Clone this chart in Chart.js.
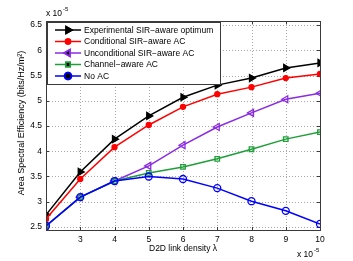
<!DOCTYPE html>
<html>
<head>
<meta charset="utf-8">
<script src="https://cdn.jsdelivr.net/npm/chart.js@4"></script>
<style>
  html, body { margin: 0; padding: 0; background: #fff; }
  #wrap { width: 353px; height: 261px; }
</style>
</head>
<body>
<div id="wrap"><canvas id="chart" width="353" height="261"></canvas></div>
<script>
// D2D link density (x 10^-5)
const density = [2, 3, 4, 5, 6, 7, 8, 9, 10];
// Area spectral efficiency (x 10^-5)
const experimentalOpt = [2.74, 3.59, 4.24, 4.70, 5.07, 5.31, 5.45, 5.65, 5.75];
const conditionalAC   = [2.66, 3.45, 4.08, 4.52, 4.88, 5.13, 5.27, 5.45, 5.53];
const unconditionalAC = [2.52, 3.09, 3.41, 3.71, 4.12, 4.48, 4.76, 5.03, 5.15];
const channelAC       = [2.52, 3.09, 3.41, 3.57, 3.69, 3.85, 4.04, 4.24, 4.38];
const noAC            = [2.52, 3.09, 3.41, 3.50, 3.45, 3.27, 3.01, 2.82, 2.56];
const yTicks = [2.5, 3, 3.5, 4, 4.5, 5, 5.5, 6, 6.5];

const FONT = 'Liberation Sans, Arial, sans-serif';

function pts(arr) {
    return arr.map((v, i) => ({ x: density[i], y: v }));
}

const series = [
    { label: 'Experimental SIR\u2212aware optimum', data: experimentalOpt, color: '#000000', style: 'triangle', rot: 90, r: 4, fill: '#000000', order: 5 },
    { label: 'Conditional SIR\u2212aware AC', data: conditionalAC, color: '#ff0000', style: 'circle', rot: 0, r: 2.5, fill: '#ff0000', order: 4 },
    { label: 'Unconditional SIR\u2212aware AC', data: unconditionalAC, color: '#8a2be2', style: 'triangle', rot: -90, r: 4, fill: 'rgba(0,0,0,0)', order: 3 },
    { label: 'Channel\u2212aware AC', data: channelAC, color: '#1f9e3a', style: 'rect', rot: 0, r: 3.2, fill: 'rgba(0,0,0,0)', order: 2 },
    { label: 'No AC', data: noAC, color: '#0000ff', style: 'circle', rot: 0, r: 3.5, fill: 'rgba(0,0,0,0)', order: 1 }
];

// dotted grid (matlab "grid on")
const gridPlugin = {
    id: 'dotgrid',
    beforeDatasetsDraw(chart) {
        const c = chart.ctx;
        const a = chart.chartArea;
        const xs = chart.scales.x, ys = chart.scales.y;
        c.save();
        c.strokeStyle = '#a8a8a8';
        c.lineWidth = 1;
        c.setLineDash([1, 2]);
        density.forEach(v => {
            if (v === 2 || v === 10) return;
            const px = Math.round(xs.getPixelForValue(v)) + 0.5;
            c.beginPath(); c.moveTo(px, a.top); c.lineTo(px, a.bottom); c.stroke();
        });
        yTicks.forEach(v => {
            const py = Math.round(ys.getPixelForValue(v)) + 0.5;
            c.beginPath(); c.moveTo(a.left, py); c.lineTo(a.right, py); c.stroke();
        });
        c.setLineDash([]);
        // inner tick marks
        c.strokeStyle = '#3a3a3a';
        density.forEach(v => {
            const px = Math.round(xs.getPixelForValue(v)) + 0.5;
            c.beginPath(); c.moveTo(px, a.bottom); c.lineTo(px, a.bottom - 3);
            c.moveTo(px, a.top); c.lineTo(px, a.top + 3); c.stroke();
        });
        yTicks.forEach(v => {
            const py = Math.round(ys.getPixelForValue(v)) + 0.5;
            c.beginPath(); c.moveTo(a.left, py); c.lineTo(a.left + 3, py);
            c.moveTo(a.right, py); c.lineTo(a.right - 3, py); c.stroke();
        });
        c.restore();
    }
};

// legend box + extra labels drawn by hand (matlab style)
const decorPlugin = {
    id: 'decor',
    afterDraw(chart) {
        const c = chart.ctx;
        const a = chart.chartArea;
        c.save();
        // plot border
        c.strokeStyle = '#3a3a3a';
        c.lineWidth = 1;
        c.strokeRect(a.left + 0.5, a.top + 0.5, a.right - a.left, a.bottom - a.top);

        // legend
        const lx = a.left + 1, ly = a.top + 1, lw = 173, lh = 62;
        c.fillStyle = '#fff';
        c.fillRect(lx, ly, lw, lh);
        c.strokeStyle = '#3a3a3a';
        c.strokeRect(lx + 0.5, ly + 0.5, lw, lh);
        c.font = '8.5px ' + FONT;
        c.textBaseline = 'middle';
        series.forEach((s, i) => {
            const yy = ly + 8 + i * 11.5;
            c.strokeStyle = s.color;
            c.lineWidth = 1.5;
            c.beginPath();
            c.moveTo(lx + 8, yy);
            c.lineTo(lx + 34, yy);
            c.stroke();
            Chart.helpers.drawPoint(c, {
                pointStyle: s.style, rotation: s.rot, radius: s.r, borderWidth: 1.3
            }, lx + 21, yy);
            c.fillStyle = s.fill;
            c.fill();
            c.stroke();
            c.fillStyle = '#000';
            c.fillText(s.label, lx + 37, yy + 0.5);
        });

        c.fillStyle = '#000';
        c.textBaseline = 'alphabetic';
        // exponent labels
        c.font = '8.5px ' + FONT;
        c.textAlign = 'left';
        c.fillText('x 10', 46, 16);
        c.font = '6px ' + FONT;
        c.fillText('-5', 63, 11);
        c.font = '8.5px ' + FONT;
        c.fillText('x 10', 297, 257);
        c.font = '6px ' + FONT;
        c.fillText('-5', 314, 252);

        // axis titles
        c.font = '8.5px ' + FONT;
        c.textAlign = 'center';
        c.textBaseline = 'middle';
        c.fillText('D2D link density \u03bb', (a.left + a.right) / 2, 249);
        c.font = '9px ' + FONT;
        c.translate(22, 123);
        c.rotate(-Math.PI / 2);
        c.fillText('Area Spectral Efficiency (bits/Hz/m\u00b2)', 0, 0);
        c.restore();
    }
};

const ctx = document.getElementById('chart').getContext('2d');
const chart = new Chart(ctx, {
    type: 'line',
    data: {
        datasets: series.map(s => ({
            label: s.label,
            data: pts(s.data),
            borderColor: s.color,
            backgroundColor: s.fill,
            borderWidth: 1.5,
            pointStyle: s.style,
            rotation: s.rot,
            pointRadius: s.r,
            pointBorderWidth: 1.3,
            pointBackgroundColor: s.fill,
            pointBorderColor: s.color,
            order: s.order,
            tension: 0
        }))
    },
    options: {
        responsive: false,
        animation: false,
        events: [],
        layout: { padding: { top: 21, right: 33, left: 0, bottom: 0 } },
        plugins: { legend: { display: false }, tooltip: { enabled: false } },
        scales: {
            x: {
                type: 'linear',
                min: 2, max: 10,
                afterBuildTicks: sc => { sc.ticks = density.map(v => ({ value: v })); },
                afterFit: sc => { sc.height = 31; },
                grid: { display: false, drawTicks: false, tickLength: 0 },
                border: { display: false },
                ticks: {
                    padding: 5,
                    color: '#000',
                    font: { family: FONT, size: 8.5 },
                    maxRotation: 0,
                    callback: v => (v === 2 ? '' : String(v))
                }
            },
            y: {
                min: 2.44, max: 6.58,
                afterBuildTicks: sc => { sc.ticks = yTicks.map(v => ({ value: v })); },
                afterFit: sc => { sc.width = 46; },
                grid: { display: false, drawTicks: false, tickLength: 0 },
                border: { display: false },
                ticks: {
                    padding: 4,
                    color: '#000',
                    font: { family: FONT, size: 8.5 },
                    callback: v => String(v)
                }
            }
        }
    },
    plugins: [gridPlugin, decorPlugin]
});
</script>
</body>
</html>
